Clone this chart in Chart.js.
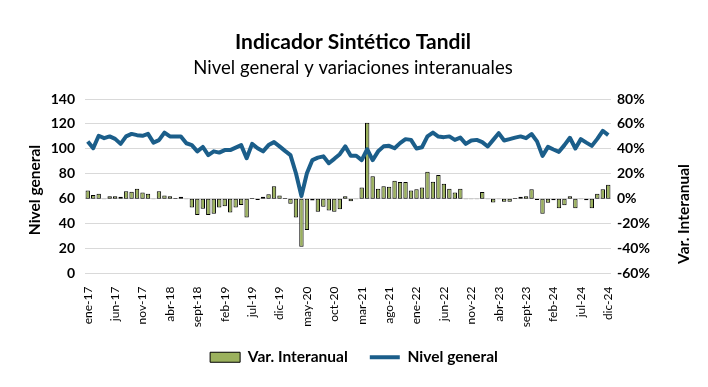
<!DOCTYPE html>
<html>
<head>
<meta charset="utf-8">
<script src="https://cdn.jsdelivr.net/npm/chart.js@4.4.1/dist/chart.umd.min.js"></script>
<style>
html,body{margin:0;padding:0;background:#fff;}
#wrap{width:708px;height:387px;}
</style>
</head>
<body>
<div id="wrap"><canvas id="c" width="708" height="387"></canvas></div>
<script>
const months = [
  'ene-17','feb-17','mar-17','abr-17','may-17','jun-17','jul-17','ago-17','sept-17','oct-17','nov-17','dic-17',
  'ene-18','feb-18','mar-18','abr-18','may-18','jun-18','jul-18','ago-18','sept-18','oct-18','nov-18','dic-18',
  'ene-19','feb-19','mar-19','abr-19','may-19','jun-19','jul-19','ago-19','sept-19','oct-19','nov-19','dic-19',
  'ene-20','feb-20','mar-20','abr-20','may-20','jun-20','jul-20','ago-20','sept-20','oct-20','nov-20','dic-20',
  'ene-21','feb-21','mar-21','abr-21','may-21','jun-21','jul-21','ago-21','sept-21','oct-21','nov-21','dic-21',
  'ene-22','feb-22','mar-22','abr-22','may-22','jun-22','jul-22','ago-22','sept-22','oct-22','nov-22','dic-22',
  'ene-23','feb-23','mar-23','abr-23','may-23','jun-23','jul-23','ago-23','sept-23','oct-23','nov-23','dic-23',
  'ene-24','feb-24','mar-24','abr-24','may-24','jun-24','jul-24','ago-24','sept-24','oct-24','nov-24','dic-24'
];

const shownTicks = ['ene-17','jun-17','nov-17','abr-18','sept-18','feb-19','jul-19','dic-19','may-20','oct-20',
  'mar-21','ago-21','ene-22','jun-22','nov-22','abr-23','sept-23','feb-24','jul-24','dic-24'];

// Var. Interanual (%), right axis
const varInteranual = [
  6.5, 3, 4, -0.5, 2, 2, 1.5, 6, 5.5, 8, 5, 4,
  -0.5, 6, 2.5, 2, 0.5, 1.5, -0.5, -7, -13, -8, -13, -12,
  -7, -6, -11, -7, -5, -15, 0.5, -1, 1.5, 3.5, 10, 2.5,
  0.5, -4, -15, -38.5, -25, -1.5, -10.5, -6.5, -9.5, -10.5, -8.5, 2,
  -2, -0.5, 9, 61, 18, 8, 10, 9.5, 14.5, 13.5, 13.5, 6.5,
  7.5, 9, 21.6, 13.6, 19, 12, 8, 5, 8, -0.4, -0.4, -0.4,
  5.3, -0.4, -3, -0.4, -2.4, -2.4, 0.5, 1.6, 2, 7.5, -1, -12,
  -3.2, -1.3, -7.7, -5.3, 2, -7.7, -0.4, -1.3, -7.7, 4, 7.5, 11.2
];

// Nivel general, left axis
const nivelGeneral = [
  106, 100.5, 110.5, 108.6, 110, 108, 104, 110, 112, 111, 110.5, 112,
  105, 107, 113, 110, 110, 110, 104.5, 103, 98, 101.5, 95, 98,
  97, 99, 99, 101, 103, 92.5, 104, 100.5, 98, 103, 105.4, 102,
  98.4, 95, 80.4, 62.2, 80.4, 91, 93, 94, 88.5, 92, 95.7, 102,
  94.5, 94.5, 91, 99.7, 91, 98, 102, 102.4, 100.5, 104.6, 107.8, 107.2,
  100.3, 101.3, 110, 113, 109.9, 109.4, 110, 107.2, 109, 104, 106.7, 107.2,
  105.4, 101.9, 107.2, 112.6, 106.7, 107.8, 109, 110, 108.6, 111.9, 106, 94.4,
  101.6, 99.5, 97.6, 103, 108.9, 100.3, 107.8, 105, 102.4, 108, 114.5, 111
];

const FONT = 'Lato, "Liberation Sans", sans-serif';

const textPlugin = {
  id: 'texts',
  afterDraw(chart) {
    const ctx = chart.ctx;
    ctx.save();
    ctx.fillStyle = '#000';
    ctx.textAlign = 'center';
    ctx.textBaseline = 'middle';
    ctx.font = 'bold 21px ' + FONT;
    ctx.fillText('Indicador Sintético Tandil', 353, 42);
    ctx.font = '18.5px ' + FONT;
    ctx.fillText('Nivel general y variaciones interanuales', 353, 68);
    ctx.font = 'bold 15.5px ' + FONT;
    ctx.translate(35, 190);
    ctx.rotate(-Math.PI / 2);
    ctx.fillText('Nivel general', 0, 0);
    ctx.restore();
    ctx.save();
    ctx.fillStyle = '#000';
    ctx.textAlign = 'center';
    ctx.textBaseline = 'middle';
    ctx.font = 'bold 15.5px ' + FONT;
    ctx.translate(684, 214);
    ctx.rotate(-Math.PI / 2);
    ctx.fillText('Var. Interanual', 0, 0);
    ctx.restore();
  }
};

new Chart(document.getElementById('c'), {
  data: {
    labels: months,
    datasets: [
      {
        type: 'bar',
        label: 'Var. Interanual',
        data: varInteranual,
        yAxisID: 'y1',
        backgroundColor: '#9BB15D',
        borderColor: '#000',
        borderWidth: 1,
        borderSkipped: false,
        barPercentage: 0.8,
        categoryPercentage: 1,
        pointStyle: 'rect',
        order: 2
      },
      {
        type: 'line',
        label: 'Nivel general',
        data: nivelGeneral,
        yAxisID: 'y',
        borderColor: '#1B5E8A',
        backgroundColor: '#1B5E8A',
        borderWidth: 4,
        pointRadius: 0,
        pointHoverRadius: 0,
        tension: 0,
        borderJoinStyle: 'round',
        pointStyle: 'line',
        order: 1
      }
    ]
  },
  options: {
    responsive: false,
    animation: false,
    devicePixelRatio: 1,
    layout: { padding: { top: 99, left: 0, right: 0, bottom: 12 } },
    plugins: {
      tooltip: { enabled: false },
      legend: {
        position: 'bottom',
        labels: {
          usePointStyle: true,
          pointStyleWidth: 30,
          boxHeight: 10,
          padding: 22,
          color: '#000',
          font: { family: FONT, size: 15.5, weight: 'bold' },
          sort: (a, b) => a.datasetIndex - b.datasetIndex
        }
      }
    },
    scales: {
      x: {
        offset: true,
        grid: { display: false },
        border: { display: false },
        ticks: {
          autoSkip: false,
          maxRotation: 90,
          minRotation: 90,
          padding: 5,
          color: '#000',
          font: { family: FONT, size: 12 },
          callback: function(v, i) { const l = months[i]; return shownTicks.includes(l) ? l : ''; }
        },
        afterFit(s) { s.height = 54; }
      },
      y: {
        position: 'left',
        min: 0, max: 140,
        ticks: { stepSize: 20, padding: 10, color: '#000', font: { family: FONT, size: 14, weight: 'bold' } },
        grid: { color: '#d9d9d9', drawTicks: false, lineWidth: 1 },
        border: { display: false },
        afterFit(s) { s.width = 85; }
      },
      y1: {
        position: 'right',
        min: -60, max: 80,
        ticks: { stepSize: 20, padding: 6, color: '#000', font: { family: FONT, size: 14, weight: 'bold' },
                 callback: v => v + '%' },
        grid: { display: false, drawTicks: false },
        border: { display: false },
        afterFit(s) { s.width = 97; }
      }
    }
  },
  plugins: [textPlugin]
});
</script>
</body>
</html>
